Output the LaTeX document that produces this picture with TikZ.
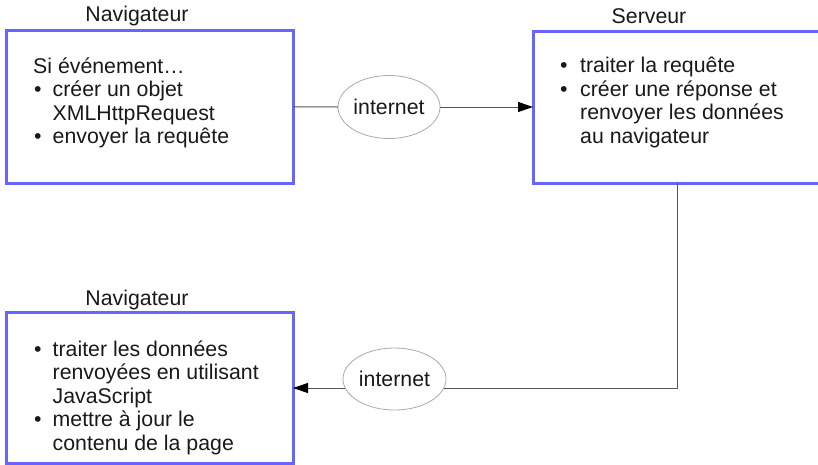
\documentclass[tikz,border=0pt]{standalone}
\usepackage{fontspec}
\setmainfont{Liberation Sans}
\usetikzlibrary{arrows.meta,shapes.geometric}
\definecolor{boxblue}{RGB}{102,102,255}
\definecolor{txt}{RGB}{25,25,25}
\definecolor{wire}{RGB}{85,85,85}
\definecolor{ellgray}{RGB}{170,170,170}
\newcommand\bul[1]{\makebox[#1][l]{\hspace{1pt}•}}
\begin{document}
\begin{tikzpicture}[x=1pt,y=-1pt,
  every node/.style={font=\fontsize{21.3}{23.5}\selectfont, text=txt},
  panel/.style={draw=boxblue, line width=3pt, inner sep=0pt, outer sep=0pt, anchor=north west},
  cloud/.style={ellipse, draw=ellgray, line width=0.8pt, fill=white, inner sep=0pt, outer sep=0pt, minimum width=102pt, minimum height=63pt},
  wireline/.style={draw=wire, line width=1pt},
  tip/.style={-{Triangle[length=15pt,width=10pt,color=black]}},
  title/.style={anchor=base, inner sep=0pt},
  body/.style={anchor=base west, inner sep=0pt}]
\path[use as bounding box] (0,0) rectangle (818,464);
\clip (0,0) rectangle (818,464);
% panels
\node[panel, minimum width=287pt, minimum height=152.5pt] (nav1) at (6,30.5) {};
\node[panel, minimum width=300pt, minimum height=151.5pt] (serv) at (533,31.5) {};
\node[panel, minimum width=287pt, minimum height=151pt] (nav2) at (6,312) {};
% titles
\node[title] (tnav1) at (137,21.7) {Navigateur};
\node[title] (tserv) at (649,23) {Serveur};
\node[title] (tnav2) at (137,305) {Navigateur};
% texts
\node[body] (body1) at (33,73) {\parbox[t]{260pt}{Si événement…\\
  \bul{19.5pt}créer un objet\\
  \hspace*{19.5pt}XMLHttpRequest\\
  \bul{19.5pt}envoyer la requête}};
\node[body] (body2) at (559,72.7) {\parbox[t]{260pt}{\bul{21pt}traiter la requête\\
  \bul{21pt}créer une réponse et\\
  \hspace*{21pt}renvoyer les données\\
  \hspace*{21pt}au navigateur}};
\node[body] (body3) at (33,356) {\parbox[t]{260pt}{\bul{19.5pt}traiter les données\\
  \hspace*{19.5pt}renvoyées en utilisant\\
  \hspace*{19.5pt}JavaScript\\
  \bul{19.5pt}mettre à jour le\\
  \hspace*{19.5pt}contenu de la page}};
% upper connector
\node[cloud] (e1) at (389,107) {internet};
\draw[wireline] (nav1.east) -- (e1.west);
\draw[wireline, tip] (e1.east) -- (e1.east -| serv.west);
% lower connector
\coordinate (bend) at (677,388);
\draw[wireline, tip] (serv.south -| bend) -- (bend) -- (bend -| nav2.east);
\node[cloud, minimum width=103pt, minimum height=62pt] (e2) at (394.5,379) {internet};
\end{tikzpicture}
\end{document}
